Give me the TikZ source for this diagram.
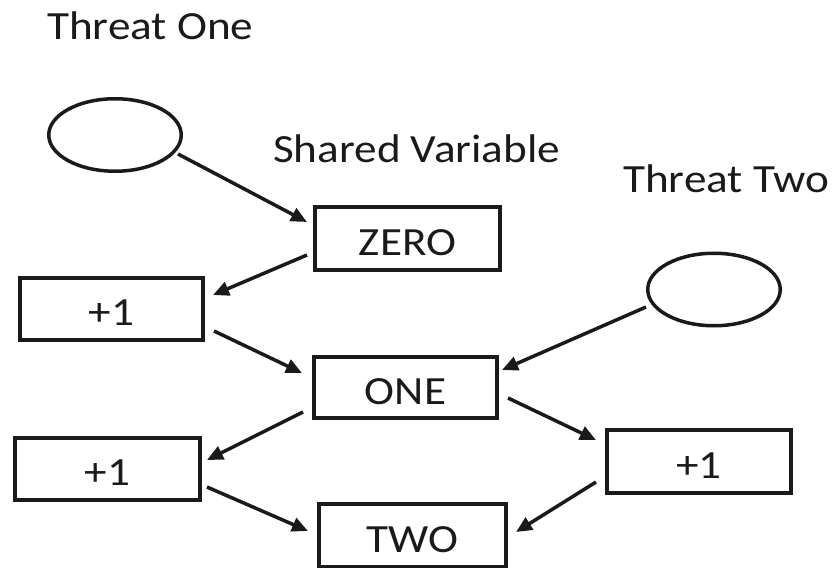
\documentclass[tikz,border=0pt]{standalone}
\usepackage{fontspec}
\usepackage{graphicx}
\setmainfont{Carlito}
\usetikzlibrary{shapes.geometric,arrows.meta}
\definecolor{ink}{HTML}{1A1A1A}
\newcommand{\widetxt}[1]{\scalebox{1.13}[1]{#1}}
\begin{document}
\begin{tikzpicture}[x=1bp,y=-1bp,
  lbl/.style={inner sep=0pt, anchor=base west, font=\fontsize{40bp}{48bp}\selectfont, text=ink},
  box/.style={draw=ink, line width=4bp, inner sep=0pt, text=ink,
    font=\fontsize{40bp}{48bp}\selectfont, text height=40bp, text depth=6.4bp},
  oval/.style={draw=ink, ellipse, line width=3.5bp, minimum width=132.5bp, minimum height=72.5bp, inner sep=0pt},
  arr/.style={draw=ink, line width=3.5bp, -{Triangle[length=16bp,width=14bp]}}]
\useasboundingbox (0,0) rectangle (833,568);
\clip (0,0) rectangle (833,568);

\node[lbl] (t1) at (47,40) {\widetxt{Threat One}};
\node[lbl] (sv) at (273,163) {\widetxt{Shared Variable}};
\node[lbl] (t2) at (623,193) {\widetxt{Threat Two}};

\node[oval] (c1) at (115,135) {};
\node[oval] (c2) at (714,289.5) {};

\node[box, minimum width=185bp, minimum height=63bp] (zero) at (407.5,238.5) {\widetxt{ZERO}};
\node[box, minimum width=183bp, minimum height=62bp] (p1) at (111.5,309) {\widetxt{+1}};
\node[box, minimum width=183bp, minimum height=61bp] (one) at (405.5,387.5) {\widetxt{ONE}};
\node[box, minimum width=185bp, minimum height=62bp] (p2) at (107.5,469) {\widetxt{+1}};
\node[box, minimum width=184bp, minimum height=63bp] (p3) at (699,461.5) {\widetxt{+1}};
\node[box, minimum width=187bp, minimum height=63bp] (two) at (412.5,535.5) {\widetxt{TWO}};

\draw[arr] ([shift={(63,19)}]c1.center) -- ([shift={(-100.5,-16.5)}]zero.center);
\draw[arr] ([shift={(-100.5,16.5)}]zero.center) -- ([shift={(101.5,-14)}]p1.center);
\draw[arr] ([shift={(102.5,22)}]p1.center) -- ([shift={(-103.5,-14.5)}]one.center);
\draw[arr] ([shift={(-68,17.5)}]c2.center) -- ([shift={(96.5,-17.5)}]one.center);
\draw[arr] ([shift={(-102.5,24.5)}]one.center) -- ([shift={(99.5,-9)}]p2.center);
\draw[arr] ([shift={(102.5,10.5)}]one.center) -- ([shift={(-103,-21.5)}]p3.center);
\draw[arr] ([shift={(99.5,18)}]p2.center) -- ([shift={(-104.5,-4.5)}]two.center);
\draw[arr] ([shift={(-103,20.5)}]p3.center) -- ([shift={(103.5,-3.5)}]two.center);
\end{tikzpicture}
\end{document}
